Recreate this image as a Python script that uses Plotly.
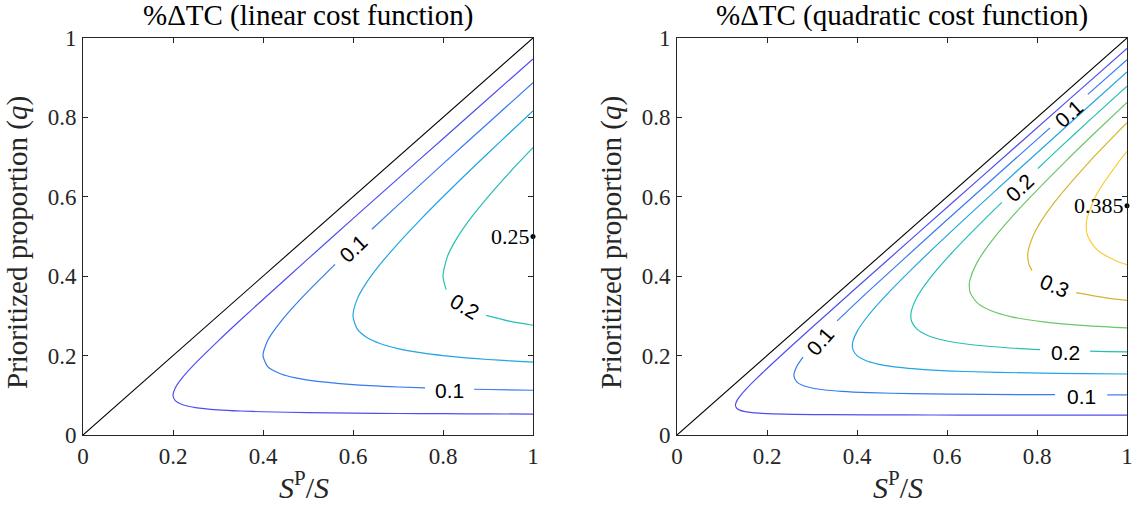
import plotly.graph_objects as go

# ---------------- data ----------------
TICK_VALS = [0, 0.2, 0.4, 0.6, 0.8, 1]
TICK_TEXT = ["0", "0.2", "0.4", "0.6", "0.8", "1"]

DIAG_X = [0, 1]
DIAG_Y = [0, 1]

# linear cost function: contour levels and traced contour lines (None = label gap)
LIN_LEVELS = [0.05, 0.10, 0.15, 0.20]
LIN_C05_X = [1.0, 0.9, 0.8, 0.7, 0.6, 0.5, 0.4, 0.35, 0.3, 0.25, 0.22, 0.205, 0.2, 0.205, 0.22, 0.25, 0.3, 0.35, 0.4, 0.5, 0.6, 0.7, 0.8, 0.9, 1.0]
LIN_C05_Y = [0.0528, 0.0531, 0.0536, 0.0542, 0.0551, 0.0564, 0.0586, 0.0604, 0.0634, 0.0691, 0.0768, 0.0865, 0.1, 0.1185, 0.1432, 0.1809, 0.2366, 0.2896, 0.3414, 0.4436, 0.5449, 0.6458, 0.7464, 0.8469, 0.9472]
LIN_C10_X = [1.0, 0.9, 0.869, None, 0.76, 0.7, 0.6, 0.5, 0.47, 0.44, 0.42, 0.41, 0.4, 0.41, 0.42, 0.44, 0.47, 0.5, 0.56, None, 0.642, 0.7, 0.8, 0.9, 1.0]
LIN_C10_Y = [0.1127, 0.1146, 0.1153, None, 0.1185, 0.1209, 0.1268, 0.1382, 0.1443, 0.1537, 0.1642, 0.173, 0.2, 0.237, 0.2558, 0.2863, 0.3257, 0.3618, 0.4297, None, 0.5181, 0.5791, 0.6828, 0.7854, 0.8873]
LIN_C15_X = [1.0, 0.95, 0.9, 0.85, 0.8, 0.75, 0.7, 0.66, 0.63, 0.61, 0.6, 0.61, 0.63, 0.66, 0.7, 0.75, 0.8, 0.85, 0.9, 0.95, 1.0]
LIN_C15_Y = [0.1838, 0.1867, 0.1902, 0.1945, 0.2, 0.2073, 0.2177, 0.2305, 0.2463, 0.266, 0.3, 0.3441, 0.3837, 0.4295, 0.4823, 0.5427, 0.6, 0.6555, 0.7098, 0.7633, 0.8162]
LIN_C20_X = [1.0, 0.95, 0.896, None, 0.807, 0.8, 0.81, 0.83, 0.86, 0.9, 0.95, 1.0]
LIN_C20_Y = [0.2764, 0.2862, 0.3014, None, 0.3661, 0.4, 0.45, 0.4939, 0.5436, 0.6, 0.6638, 0.7236]

LIN_LABEL_TEXT = ["0.1", "0.2", "0.1"]
LIN_LABEL_X = [0.601, 0.848, 0.8145]
LIN_LABEL_Y = [0.474, 0.328, 0.116]
LIN_MAX_X = [1.0]
LIN_MAX_Y = [0.5]
LIN_MAX_VAL = ["0.25"]

# quadratic cost function
QUAD_LEVELS = [0.05, 0.10, 0.15, 0.20, 0.25, 0.30, 0.35]
QUAD_C05_X = [1.0, 0.8364, 0.629, 0.5051, 0.341, 0.2604, 0.2133, 0.1832, 0.1628, 0.1488, 0.1393, 0.1333, 0.1299, 0.1332, 0.1401, 0.1524, 0.1736, 0.212, 0.2924, 0.398, 0.5398, 0.6643, 0.8722, 1.0]
QUAD_C05_Y = [0.0501, 0.0502, 0.0503, 0.0505, 0.0512, 0.0521, 0.0533, 0.0549, 0.057, 0.0595, 0.0627, 0.0667, 0.075, 0.0866, 0.098, 0.1143, 0.1389, 0.1802, 0.2632, 0.3701, 0.5128, 0.6377, 0.846, 0.9739]
QUAD_C10_X = [1.0, 0.956, None, 0.84, 0.682, 0.5208, 0.4267, 0.3663, 0.3256, 0.2976, 0.2786, 0.2667, 0.2598, 0.2664, 0.2801, None, 0.356, 0.424, 0.5848, 0.7077, 0.7959, 0.829, None, 0.913, 1.0]
QUAD_C10_Y = [0.101, 0.101, None, 0.1015, 0.1023, 0.1042, 0.1067, 0.1099, 0.114, 0.119, 0.1254, 0.1333, 0.15, 0.1732, 0.1961, None, 0.2875, 0.3604, 0.5263, 0.6511, 0.7402, 0.7735, None, 0.858, 0.9455]
QUAD_C15_X = [1.0, 0.9086, 0.7813, 0.64, 0.5495, 0.4884, 0.4464, 0.418, 0.4, 0.391, 0.3897, 0.3906, 0.3996, 0.4202, 0.4571, 0.5208, 0.6359, 0.7556, 0.8772, 1.0]
QUAD_C15_Y = [0.1537, 0.1545, 0.1563, 0.16, 0.1648, 0.1709, 0.1786, 0.1881, 0.2, 0.215, 0.225, 0.2344, 0.2597, 0.2941, 0.3429, 0.4167, 0.5405, 0.6649, 0.7895, 0.9143]
QUAD_C20_X = [1.0, 0.9553, 0.918, None, 0.807, 0.7326, 0.6512, 0.5952, 0.5573, 0.5333, 0.5213, 0.5196, 0.5208, 0.5328, 0.5602, 0.6095, 0.6944, 0.722, None, 0.802, 0.8479, 0.9183, 1.0]
QUAD_C20_Y = [0.2092, 0.2102, 0.2111, None, 0.2153, 0.2198, 0.2279, 0.2381, 0.2508, 0.2667, 0.2867, 0.3, 0.3125, 0.3463, 0.3922, 0.4571, 0.5556, 0.586, None, 0.6712, 0.7207, 0.7943, 0.8789]
QUAD_C25_X = [1.0, 0.9158, 0.814, 0.744, 0.6966, 0.6667, 0.6517, 0.6495, 0.651, 0.666, 0.7003, 0.7619, 0.8681, 0.9306, 1.0]
QUAD_C25_Y = [0.2696, 0.2747, 0.2849, 0.2976, 0.3135, 0.3333, 0.3584, 0.375, 0.3906, 0.4329, 0.4902, 0.5714, 0.6944, 0.7631, 0.8376]
QUAD_C30_X = [1.0, 0.9574, 0.887, None, 0.789, 0.782, 0.7794, 0.7813, 0.7992, 0.8403, 0.9143, 1.0]
QUAD_C30_Y = [0.3389, 0.3447, 0.3586, None, 0.414, 0.4301, 0.45, 0.4688, 0.5195, 0.5882, 0.6857, 0.7865]
QUAD_C35_X = [1.0, 0.9753, 0.9333, 0.9124, 0.9093, 0.9115, 0.9324, 0.9804, 1.0]
QUAD_C35_Y = [0.4289, 0.4389, 0.4667, 0.5018, 0.525, 0.5469, 0.6061, 0.6863, 0.7145]

QUAD_LABEL_TEXT = ["0.1", "0.1", "0.2", "0.3", "0.2", "0.1"]
QUAD_LABEL_X = [0.318, 0.871, 0.762, 0.838, 0.8625, 0.898]
QUAD_LABEL_Y = [0.240, 0.8158, 0.6286, 0.382, 0.213, 0.1013]
QUAD_MAX_X = [1.0]
QUAD_MAX_Y = [0.5774]
QUAD_MAX_VAL = ["0.385"]

# ---------------- styles ----------------
LEVEL_COLORS = {0.05: "#4f4fee", 0.10: "#377af2", 0.15: "#22a5e2", 0.20: "#24c0b2",
                0.25: "#6cc66a", 0.30: "#d4b532", 0.35: "#f8cf3a"}
LIN_LABEL_ANGLE = [-43.6, 30.5, 0]
QUAD_LABEL_ANGLE = [-49, -41.6, -43.6, 23, 0, 0]

AXIS_COLOR = "#262626"
SERIF = "Liberation Serif"
SANS = "Liberation Sans"

W, H = 1132, 506


def px(p):  # page x pixel -> paper fraction
    return p / W


def py(p):  # page y pixel -> paper fraction
    return 1 - p / H


L_DOM = [px(83), px(533)]
R_DOM = [px(677), px(1127)]
Y_DOM = [py(435), py(38)]

fig = go.Figure()


def add_line(x, y, color, xa, ya, width=1.2, shape="spline"):
    fig.add_trace(go.Scatter(x=x, y=y, mode="lines", xaxis=xa, yaxis=ya,
                             line=dict(color=color, width=width, shape=shape, smoothing=0.7),
                             hoverinfo="skip", showlegend=False, connectgaps=False))


lin_lines = [(LIN_C05_X, LIN_C05_Y), (LIN_C10_X, LIN_C10_Y), (LIN_C15_X, LIN_C15_Y), (LIN_C20_X, LIN_C20_Y)]
for lev, (x, y) in zip(LIN_LEVELS, lin_lines):
    add_line(x, y, LEVEL_COLORS[lev], "x", "y")
add_line(DIAG_X, DIAG_Y, "black", "x", "y", width=1.1, shape="linear")

quad_lines = [(QUAD_C05_X, QUAD_C05_Y), (QUAD_C10_X, QUAD_C10_Y), (QUAD_C15_X, QUAD_C15_Y),
              (QUAD_C20_X, QUAD_C20_Y), (QUAD_C25_X, QUAD_C25_Y), (QUAD_C30_X, QUAD_C30_Y),
              (QUAD_C35_X, QUAD_C35_Y)]
for lev, (x, y) in zip(QUAD_LEVELS, quad_lines):
    add_line(x, y, LEVEL_COLORS[lev], "x2", "y2")
add_line(DIAG_X, DIAG_Y, "black", "x2", "y2", width=1.1, shape="linear")

# maximum markers
for mx, my, xa, ya in [(LIN_MAX_X, LIN_MAX_Y, "x", "y"), (QUAD_MAX_X, QUAD_MAX_Y, "x2", "y2")]:
    fig.add_trace(go.Scatter(x=mx, y=my, mode="markers", xaxis=xa, yaxis=ya, cliponaxis=False,
                             marker=dict(color="black", size=5), hoverinfo="skip", showlegend=False))

ann = []
# contour labels
for txt, x, y, a in zip(LIN_LABEL_TEXT, LIN_LABEL_X, LIN_LABEL_Y, LIN_LABEL_ANGLE):
    ann.append(dict(text=txt, x=x, y=y, xref="x", yref="y", showarrow=False, textangle=a, yshift=-2,
                    font=dict(family=SANS, size=21, color="black")))
for txt, x, y, a in zip(QUAD_LABEL_TEXT, QUAD_LABEL_X, QUAD_LABEL_Y, QUAD_LABEL_ANGLE):
    ann.append(dict(text=txt, x=x, y=y, xref="x2", yref="y2", showarrow=False, textangle=a, yshift=-2,
                    font=dict(family=SANS, size=21, color="black")))
# max value labels
for txt, x, y, xr, yr in [(LIN_MAX_VAL[0], LIN_MAX_X[0], LIN_MAX_Y[0], "x", "y"),
                          (QUAD_MAX_VAL[0], QUAD_MAX_X[0], QUAD_MAX_Y[0], "x2", "y2")]:
    ann.append(dict(text=txt, x=x, y=y, xref=xr, yref=yr, showarrow=False, xanchor="right",
                    yanchor="middle", xshift=-1, font=dict(family=SERIF, size=22, color="black")))

# titles and axis labels
for dom, title in [(L_DOM, "%ΔTC (linear cost function)"), (R_DOM, "%ΔTC (quadratic cost function)")]:
    cx = (dom[0] + dom[1]) / 2
    ann.append(dict(text=title, x=cx, y=py(15), xref="paper", yref="paper", showarrow=False,
                    xanchor="center", yanchor="middle", font=dict(family=SERIF, size=29, color="black")))
    ann.append(dict(text="<i>S</i><sup>P</sup>/<i>S</i>", x=cx, y=py(485), xref="paper", yref="paper",
                    showarrow=False, xanchor="center", yanchor="middle", xshift=-4,
                    font=dict(family=SERIF, size=30, color=AXIS_COLOR)))
    ann.append(dict(text="Prioritized proportion (<i>q</i>)", x=dom[0] - 66 / W, y=py(243),
                    xref="paper", yref="paper", showarrow=False, textangle=-90,
                    xanchor="center", yanchor="middle", font=dict(family=SERIF, size=29, color=AXIS_COLOR)))

axis_common = dict(range=[0, 1], tickvals=TICK_VALS, ticktext=TICK_TEXT, ticks="inside", ticklen=5,
                   tickwidth=1, tickcolor=AXIS_COLOR, showline=True, linecolor=AXIS_COLOR, linewidth=1,
                   mirror="ticks", showgrid=False, zeroline=False, fixedrange=True, automargin=False,
                   ticklabeloverflow="allow",
                   tickfont=dict(family=SERIF, size=23, color=AXIS_COLOR))

fig.update_layout(
    template="none",
    width=W, height=H, margin=dict(l=0, r=0, t=0, b=0, pad=0, autoexpand=False),
    paper_bgcolor="white", plot_bgcolor="white", showlegend=False,
    xaxis=dict(domain=L_DOM, anchor="y", ticklabelstandoff=0, **axis_common),
    yaxis=dict(domain=Y_DOM, anchor="x", ticklabelstandoff=1, **axis_common),
    xaxis2=dict(domain=R_DOM, anchor="y2", ticklabelstandoff=0, **axis_common),
    yaxis2=dict(domain=Y_DOM, anchor="x2", ticklabelstandoff=1, **axis_common),
    annotations=ann,
)

# remove the browser's default page margin so the 1132x506 figure fills the window exactly
fig.write_html("out.html", config={"displayModeBar": False},
               post_script="document.body.style.margin='0';document.body.style.overflow='hidden';")
